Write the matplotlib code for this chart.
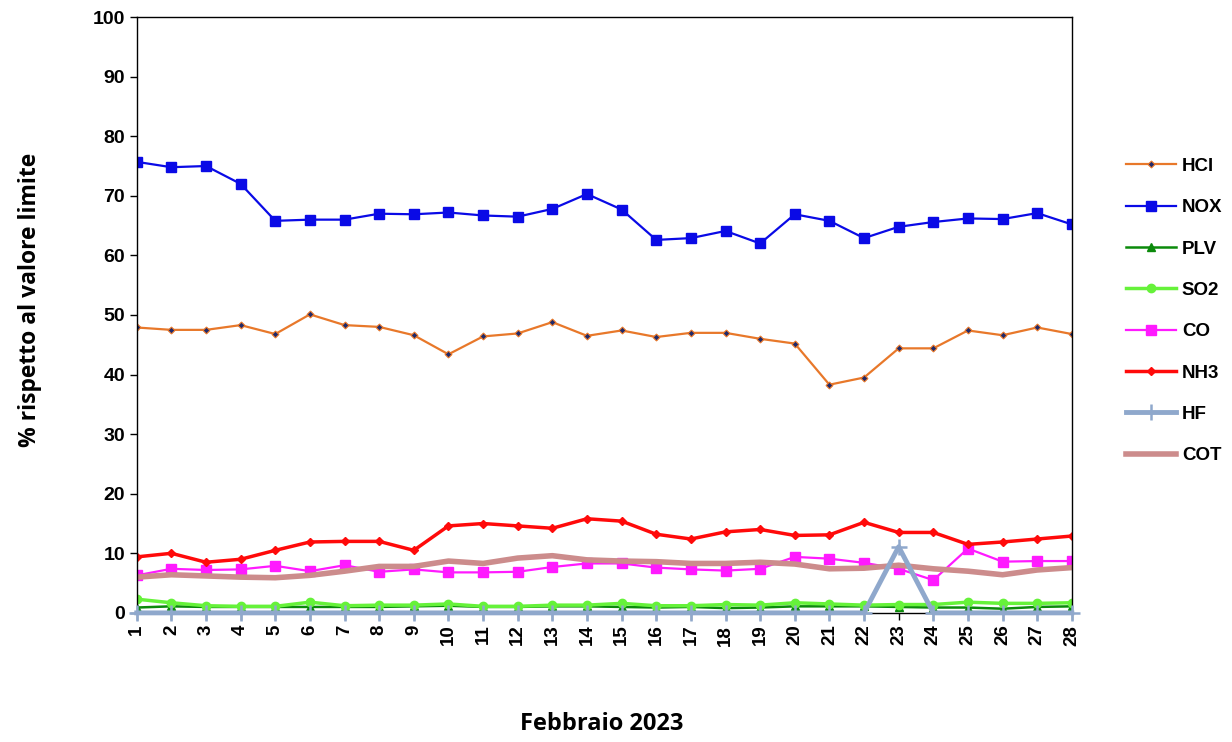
import numpy as np
import matplotlib.pyplot as plt

giorni = list(range(1, 29))

hcl = [47.9, 47.5, 47.5, 48.3, 46.8, 50.1, 48.3, 48.0, 46.6, 43.4, 46.4, 46.9, 48.8, 46.5,
       47.4, 46.3, 47.0, 47.0, 46.0, 45.2, 38.3, 39.5, 44.4, 44.4, 47.4, 46.6, 47.9, 46.8]
nox = [75.7, 74.8, 75.0, 72.0, 65.8, 66.0, 66.0, 67.0, 66.9, 67.2, 66.7, 66.5, 67.8, 70.3,
       67.7, 62.6, 62.9, 64.1, 62.0, 66.9, 65.8, 62.9, 64.8, 65.6, 66.2, 66.1, 67.1, 65.2]
plv = [0.9, 1.1, 1.0, 1.0, 1.0, 1.0, 1.0, 1.0, 1.1, 1.2, 1.0, 1.0, 1.1, 1.1,
       1.0, 0.9, 1.0, 0.8, 0.9, 1.1, 1.1, 1.1, 1.0, 0.9, 0.9, 0.7, 1.0, 1.1]
so2 = [2.3, 1.7, 1.2, 1.1, 1.1, 1.8, 1.2, 1.3, 1.3, 1.5, 1.1, 1.1, 1.3, 1.3,
       1.6, 1.2, 1.2, 1.4, 1.3, 1.7, 1.5, 1.3, 1.4, 1.4, 1.8, 1.6, 1.6, 1.7]
co = [6.3, 7.4, 7.2, 7.3, 7.9, 7.0, 8.0, 6.9, 7.3, 6.8, 6.8, 6.9, 7.7, 8.3,
      8.3, 7.6, 7.3, 7.1, 7.4, 9.4, 9.1, 8.4, 7.4, 5.5, 10.8, 8.6, 8.7, 8.7]
nh3 = [9.4, 10.0, 8.5, 9.0, 10.5, 11.9, 12.0, 12.0, 10.5, 14.6, 15.0, 14.6, 14.2, 15.8,
       15.4, 13.2, 12.4, 13.6, 14.0, 13.0, 13.1, 15.2, 13.5, 13.5, 11.5, 11.9, 12.4, 12.9]
hf = [0, 0, 0, 0, 0, 0, 0, 0, 0, 0, 0, 0, 0, 0,
      0, 0, 0, 0, 0, 0, 0, 0, 11.1, 0, 0, 0, 0, 0]
cot = [6.0, 6.4, 6.2, 6.0, 5.9, 6.3, 7.0, 7.8, 7.8, 8.7, 8.3, 9.2, 9.6, 8.9,
       8.7, 8.6, 8.3, 8.3, 8.5, 8.2, 7.4, 7.5, 8.0, 7.4, 7.0, 6.4, 7.2, 7.6]

fig = plt.figure(figsize=(12.32, 7.42), dpi=100)
ax = fig.add_axes([0.111, 0.174, 0.759, 0.803])

ax.plot(giorni, hcl, color="#E8782A", lw=1.6, marker="D", ms=3.5,
        mfc="#1F2A6B", mec="#E8782A", mew=0.8, label="HCl")
ax.plot(giorni, nox, color="#0A0AE6", lw=1.6, marker="s", ms=6.5, label="NOX")
ax.plot(giorni, plv, color="#0B8A0B", lw=1.8, marker="^", ms=5.5, label="PLV")
ax.plot(giorni, so2, color="#66F23A", lw=2.5, marker="o", ms=6, label="SO2")
ax.plot(giorni, co, color="#FF1AFF", lw=1.6, marker="s", ms=7, label="CO")
ax.plot(giorni, nh3, color="#FF0A0A", lw=2.5, marker="D", ms=4.5, label="NH3")
ax.plot(giorni, hf, color="#8FA8CC", lw=3.5, marker="+", ms=11, mew=1.8,
        clip_on=False, zorder=5, label="HF")
ax.plot(giorni, cot, color="#CC8C8C", lw=4, label="COT")

ax.set_xlim(1, 28)
ax.set_ylim(0, 100)
ax.set_yticks(range(0, 101, 10))
ax.set_xticks(giorni)
ax.set_xticklabels([str(g) for g in giorni], rotation=90,
                   fontsize=13.5, fontweight="bold", family="Liberation Sans")
for t in ax.get_yticklabels():
    t.set_fontsize(14)
    t.set_fontweight("bold")
    t.set_family("Liberation Sans")
ax.tick_params(axis="both", direction="out", length=5, width=1, colors="black")
for s in ax.spines.values():
    s.set_color("black")
    s.set_linewidth(1)

fig.text(0.024, 0.596, "% rispetto al valore limite", fontsize=16.5, fontweight="bold",
         family="Open Sans", rotation=90, ha="center", va="center")
fig.text(0.488, 0.024, "Febbraio 2023", fontsize=17, fontweight="bold",
         family="Open Sans", ha="center", va="center")

leg = fig.legend(loc="upper left", bbox_to_anchor=(0.9, 0.81), frameon=False,
                 handlelength=2.7, labelspacing=1.29, handletextpad=0.3,
                 prop={"family": "Liberation Sans", "weight": "bold", "size": 13.5})

fig.savefig("out.png", dpi=100)
